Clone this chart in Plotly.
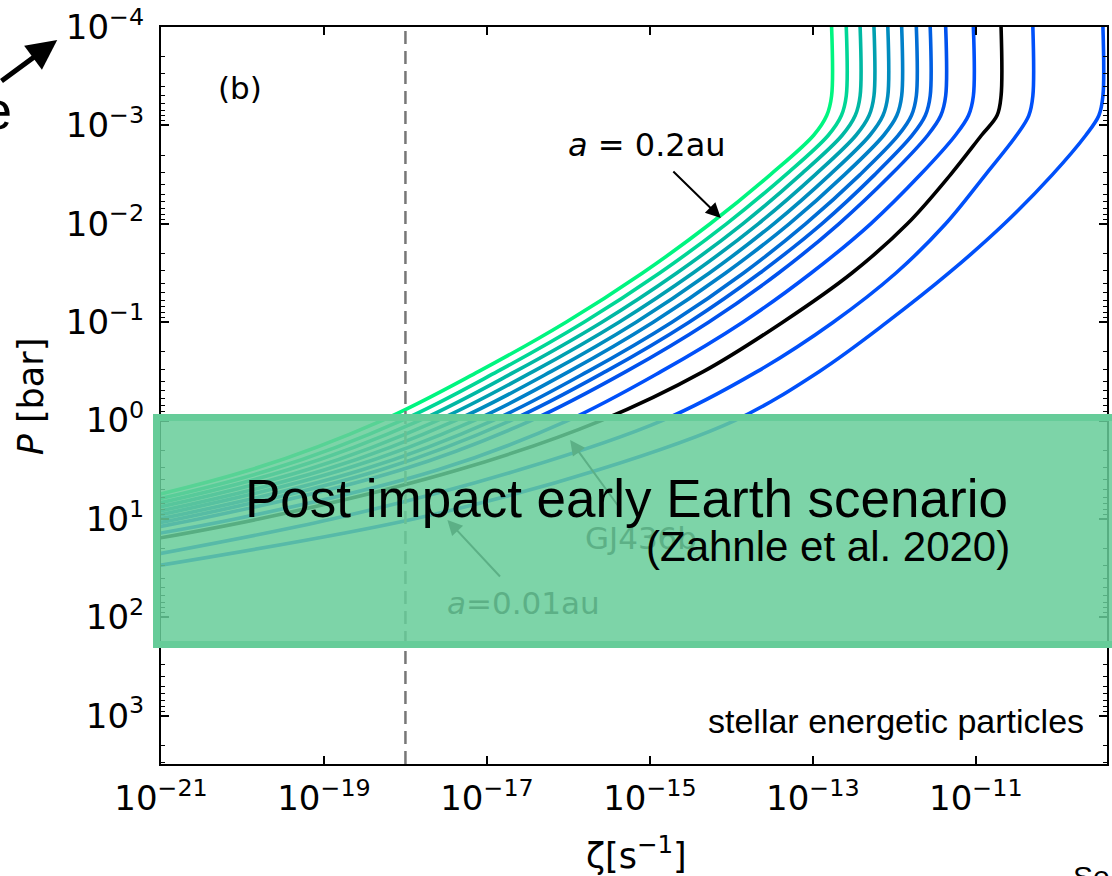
import plotly.graph_objects as go

# Pressure levels (log10 P [bar]) at which every ionisation-rate profile is tabulated
log_p_levels = [-4.0, -3.3, -3.1, -2.9, -2.5, -2.0, -1.5, -1.0, -0.5, 0.0, 0.5, 1.0, 1.5]

# log10 zeta [s^-1] for each orbital distance, outermost (a = 0.2 au) first
log_zeta_01 = [-12.77, -12.77, -12.83, -12.99, -13.52, -14.26, -15.09, -16.03, -17.10, -18.29, -19.90, -22.40, -25.97]
log_zeta_02 = [-12.59, -12.59, -12.65, -12.81, -13.33, -14.06, -14.88, -15.81, -16.87, -18.05, -19.66, -22.16, -25.73]
log_zeta_03 = [-12.42, -12.42, -12.48, -12.64, -13.15, -13.86, -14.67, -15.59, -16.65, -17.83, -19.44, -21.93, -25.50]
log_zeta_04 = [-12.25, -12.25, -12.31, -12.47, -12.97, -13.67, -14.47, -15.38, -16.43, -17.61, -19.21, -21.71, -25.27]
log_zeta_05 = [-12.08, -12.08, -12.14, -12.30, -12.79, -13.48, -14.27, -15.17, -16.21, -17.39, -18.99, -21.48, -25.05]
log_zeta_06 = [-11.91, -11.91, -11.97, -12.13, -12.61, -13.29, -14.07, -14.96, -15.99, -17.16, -18.77, -21.26, -24.82]
log_zeta_07 = [-11.73, -11.73, -11.79, -11.95, -12.42, -13.09, -13.85, -14.73, -15.76, -16.93, -18.53, -21.02, -24.58]
log_zeta_08 = [-11.56, -11.56, -11.62, -11.78, -12.24, -12.89, -13.65, -14.52, -15.54, -16.71, -18.30, -20.79, -24.35]
log_zeta_09 = [-11.37, -11.37, -11.43, -11.59, -12.04, -12.68, -13.42, -14.28, -15.29, -16.46, -18.05, -20.54, -24.09]
log_zeta_10 = [-11.03, -11.03, -11.09, -11.25, -11.68, -12.29, -13.02, -13.86, -14.86, -16.01, -17.60, -20.09, -23.64]
log_zeta_gj436b = [-10.69, -10.69, -10.74, -10.93, -11.31, -11.84, -12.52, -13.37, -14.34, -15.60, -17.35, -19.80, -23.20]
log_zeta_12 = [-10.30, -10.30, -10.35, -10.50, -10.88, -11.37, -11.98, -12.75, -13.68, -14.85, -16.60, -18.90, -22.00]
log_zeta_13 = [-9.44, -9.44, -9.49, -9.65, -10.06, -10.65, -11.33, -12.09, -12.92, -13.96, -15.63, -17.90, -21.23]

profile_colors = ["#00f580", "#00d696", "#00b8a3", "#00a0b0", "#008cbe", "#0080c8",
                  "#006ed4", "#005ee2", "#0052ee", "#0050fa", "#000000", "#0050fa", "#0050fa"]

# Reference ionisation rate (dashed line)
zeta_reference = 1e-18

# Axis tick exponents
x_tick_exponents = [-21, -19, -17, -15, -13, -11]
y_tick_exponents = [-4, -3, -2, -1, 0, 1, 2, 3]

profiles = [log_zeta_01, log_zeta_02, log_zeta_03, log_zeta_04, log_zeta_05, log_zeta_06,
            log_zeta_07, log_zeta_08, log_zeta_09, log_zeta_10, log_zeta_gj436b,
            log_zeta_12, log_zeta_13]

PLOT_FONT = "DejaVu Sans"
SLIDE_FONT = "Liberation Sans"


def sup(e):
    return "10<sup>" + str(e).replace("-", "\u2212") + "</sup>"


fig = go.Figure()
pressures = [10 ** v for v in log_p_levels]
for zs, col in zip(profiles, profile_colors):
    fig.add_trace(go.Scatter(
        x=[10 ** v for v in zs], y=pressures, mode="lines",
        line=dict(color=col, width=3.6, shape="spline", smoothing=1.0),
        showlegend=False, hoverinfo="skip"))

# plot-area geometry in page pixels
L, R, T, B = 161, 1109, 27, 764
W, H = 1112, 876


def px(xp):
    return (xp - L) / (R - L)


def py(yp):
    return (B - yp) / (B - T)


shapes = [
    dict(type="line", xref="x", yref="paper", x0=zeta_reference, x1=zeta_reference,
         y0=0, y1=1, line=dict(color="#777777", width=2.5, dash="13px,7px"), layer="above"),
    dict(type="rect", xref="paper", yref="paper",
         x0=px(156.5), x1=px(1125), y0=py(644.5), y1=py(417.5),
         fillcolor="rgba(102,204,153,0.85)",
         line=dict(color="rgb(102,204,153)", width=7), layer="above"),
]

faded = "rgb(92,176,134)"
annotations = [
    dict(text="(b)", x=px(240), y=py(88), font=dict(family=PLOT_FONT, size=31, color="black")),
    dict(text="<i>a</i> = 0.2au", x=px(648), y=py(145),
         font=dict(family=PLOT_FONT, size=32, color="black")),
    dict(text="", x=px(722), y=py(218), ax=-49, ay=-48, showarrow=True,
         arrowhead=2, arrowsize=1.5, arrowwidth=2, arrowcolor="black"),
    dict(text="GJ436b", x=px(642), y=py(538), font=dict(family=PLOT_FONT, size=31, color=faded)),
    dict(text="", x=px(571), y=py(440), ax=51, ay=70, showarrow=True,
         arrowhead=2, arrowsize=1.5, arrowwidth=2, arrowcolor=faded),
    dict(text="<i>a</i>=0.01au", x=px(524), y=py(603),
         font=dict(family=PLOT_FONT, size=31, color=faded)),
    dict(text="", x=px(448), y=py(520), ax=54, ay=58, showarrow=True,
         arrowhead=2, arrowsize=1.5, arrowwidth=2, arrowcolor=faded),
    dict(text="Post impact early Earth scenario", x=px(627), y=py(498),
         font=dict(family=SLIDE_FONT, size=53, color="black")),
    dict(text="(Zahnle et al. 2020)", x=px(829.5), y=py(546),
         font=dict(family=SLIDE_FONT, size=42, color="black")),
    dict(text="stellar energetic particles", x=px(1088), y=py(721), xanchor="right",
         font=dict(family=SLIDE_FONT, size=34, color="black")),
    dict(text="<i>P</i> [bar]", x=px(31), y=py(396), textangle=-90,
         font=dict(family=PLOT_FONT, size=35, color="black")),
    dict(text="\u03b6[s<sup>\u22121</sup>]", x=px(638), y=py(853),
         font=dict(family=PLOT_FONT, size=35, color="black")),
    dict(text="", x=px(57), y=py(40), ax=-62, ay=42, showarrow=True,
         arrowhead=2, arrowsize=1.2, arrowwidth=5, arrowcolor="black"),
    dict(text="e", x=px(14), y=py(110), xanchor="right",
         font=dict(family=SLIDE_FONT, size=54, color="black")),
    dict(text="Se", x=px(1073), y=py(858), xanchor="left", yanchor="top",
         font=dict(family=SLIDE_FONT, size=30, color="black")),
]
for a in annotations:
    a.setdefault("xref", "paper")
    a.setdefault("yref", "paper")
    a.setdefault("xanchor", "center")
    a.setdefault("yanchor", "middle")
    a.setdefault("showarrow", False)
    if a["showarrow"]:
        a["axref"] = "pixel"
        a["ayref"] = "pixel"

axis_common = dict(
    type="log", showgrid=False, zeroline=False, showline=True, linecolor="black",
    linewidth=2, mirror="allticks", ticks="inside", ticklen=8, tickwidth=1.5,
    tickcolor="black", tickfont=dict(family=PLOT_FONT, size=34, color="black"),
)

fig.update_layout(
    width=W, height=H,
    margin=dict(l=L, r=W - R, t=T, b=H - B),
    paper_bgcolor="white", plot_bgcolor="white",
    shapes=shapes, annotations=annotations, showlegend=False,
    xaxis=dict(axis_common, range=[-21, -9.39], tickmode="array",
               tickvals=[10 ** e for e in x_tick_exponents],
               ticktext=[sup(e) for e in x_tick_exponents], ticklabelstandoff=3),
    yaxis=dict(axis_common, range=[3.49, -4], tickmode="array",
               tickvals=[10 ** e for e in y_tick_exponents],
               ticktext=[sup(e) for e in y_tick_exponents], ticklabelstandoff=8,
               minor=dict(ticks="inside", ticklen=4, tickwidth=1, tickcolor="black",
                          dtick="D1", showgrid=False)),
)

fig.write_html("out.html")
